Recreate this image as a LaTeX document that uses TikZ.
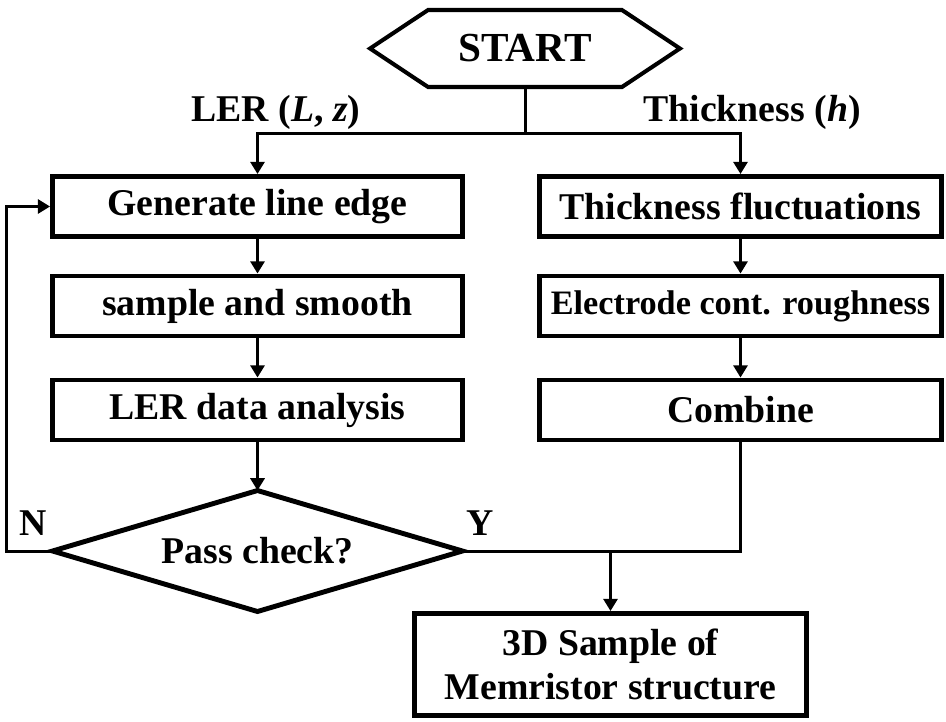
\documentclass[tikz,border=0pt]{standalone}
\usepackage{fontspec}
\setmainfont{Liberation Serif}
\usetikzlibrary{arrows.meta,shapes.geometric}

\tikzset{
    stepbox/.style={draw, line width=2.8pt, rectangle, inner sep=2pt,
        minimum height=1.2cm, font=\fontsize{21.5}{25}\selectfont\bfseries},
    conn/.style={line width=1.7pt},
    arr/.style={conn, -{Triangle[length=7pt,width=8pt]}},
    lbl/.style={font=\fontsize{21.5}{25}\selectfont\bfseries},
}

\begin{document}
\begin{tikzpicture}[x=0.02cm, y=-0.02cm]
    \useasboundingbox[fill=white] (0,0) rectangle (946,721);

    % start
    \node[inner sep=0, outer sep=0, minimum width=3.88cm, minimum height=1.54cm,
          font=\fontsize{23.5}{26}\selectfont\bfseries] (start) at (525,48.5) {START};
    \draw[line width=2.3pt, line join=miter]
        (start.north west) -- (start.north east) -- ([xshift=1.16cm]start.east)
        -- (start.south east) -- (start.south west) -- ([xshift=-1.16cm]start.west) -- cycle;

    % LER branch
    \node[stepbox, minimum width=8.2cm] (gen) at (257.5,206.5) {Generate line edge};
    \node[stepbox, minimum width=8.2cm] (smooth) at (257.5,306) {sample and smooth};
    \node[stepbox, minimum width=8.2cm] (anal) at (257.5,410) {LER data analysis};
    \node[draw, diamond, aspect=3.4, line width=2.8pt, outer sep=0, inner sep=0,
          minimum width=8.2cm, minimum height=2.42cm,
          font=\fontsize{21.5}{25}\selectfont\bfseries] (check) at (257.5,551) {Pass check?};

    % thickness branch
    \node[stepbox, minimum width=8.04cm] (thick) at (740.5,206.5) {Thickness fluctuations};
    \node[stepbox, minimum width=8.04cm, font=\fontsize{19.5}{23}\selectfont\bfseries]
        (rough) at (740.5,306) {Electrode cont. roughness};
    \node[stepbox, minimum width=8.04cm] (comb) at (740.5,410) {Combine};

    % result
    \node[stepbox, minimum width=7.84cm, minimum height=2.04cm, align=center]
        (final) at (610.5,664.5) {3D Sample of\\Memristor structure};

    % labels
    \node[lbl] (lerlbl) at (276,112) {LER (\textit{L}, \textit{z})};
    \node[lbl] (thklbl) at (752,112) {Thickness (\textit{h})};
    \node[lbl] (nlbl) at (33,523) {N};
    \node[lbl] (ylbl) at (480,523) {Y};

    % connectors
    \coordinate (fork) at (525,133);
    \draw[conn] (start.south) -- (fork);
    \draw[arr] (fork) -| (gen.north);
    \draw[arr] (fork) -| (thick.north);

    \foreach \a/\b in {gen/smooth, smooth/anal, anal/check, thick/rough, rough/comb}
        \draw[arr] (\a) -- (\b);

    \draw[arr] (check.west) -- ++(-46.5,0) |- (gen.west);
    \draw[conn] (check.east) -| (comb.south);
    \coordinate (merge) at (final.north |- check.east);
    \draw[arr] (merge) -- (final.north);
\end{tikzpicture}
\end{document}
